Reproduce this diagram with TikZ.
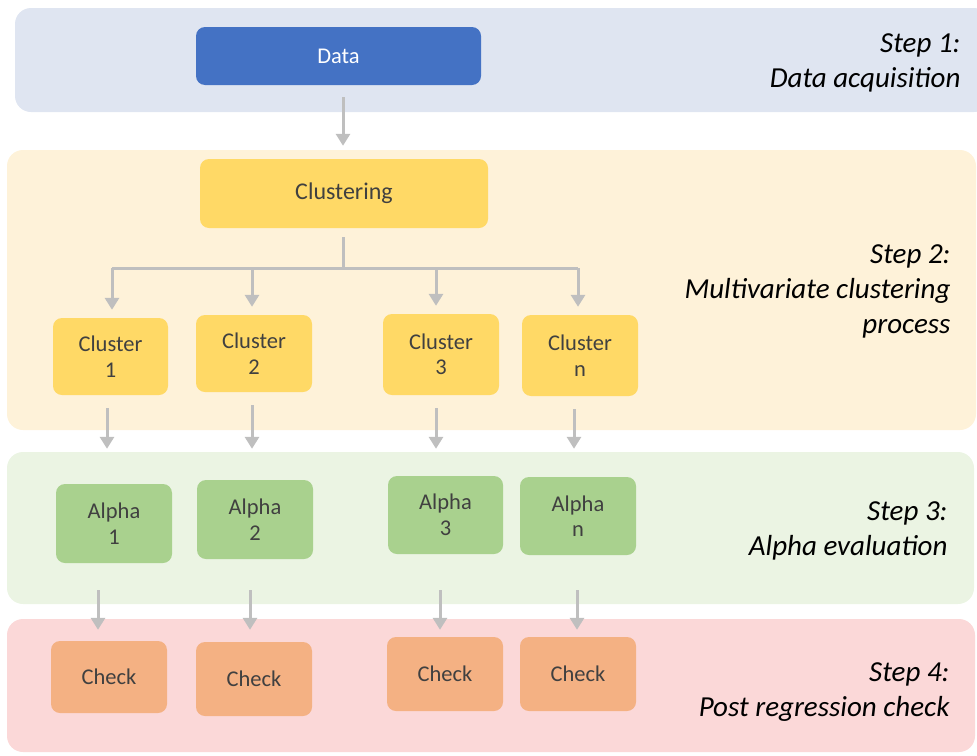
\documentclass[tikz,border=0pt]{standalone}
\usepackage{fontspec}
\setmainfont{Carlito}
\usetikzlibrary{arrows.meta}

\definecolor{bandblue}{HTML}{DFE5F1}
\definecolor{bandyellow}{HTML}{FEF2D9}
\definecolor{bandgreen}{HTML}{EBF4E3}
\definecolor{bandred}{HTML}{FBD8D8}
\definecolor{datablue}{HTML}{4472C4}
\definecolor{clustyellow}{HTML}{FFD966}
\definecolor{alphagreen}{HTML}{A9D18E}
\definecolor{checkorange}{HTML}{F4B183}
\definecolor{arrowgray}{HTML}{BFBFBF}
\definecolor{textgray}{HTML}{404040}

\tikzset{
  band/.style={rounded corners=16pt},
  box/.style={rounded corners=9pt, inner sep=0pt, align=center,
              text=textgray, font=\fontsize{22.5}{25.5}\selectfont},
  flow/.style={draw=arrowgray, line width=3pt,
               -{Triangle[width=14pt,length=12pt]}},
  trunk/.style={draw=arrowgray, line width=3pt},
  steplabel/.style={anchor=north east, align=right,
                    font=\fontsize{29}{35}\selectfont\itshape},
}

\begin{document}
\begin{tikzpicture}[x=1pt,y=-1pt]
\useasboundingbox (0,0) rectangle (977,755);

% step bands
\fill[bandblue,band]   (15,8)   rectangle (990,112);
\fill[bandyellow,band] (7,150)  rectangle (976,430);
\fill[bandgreen,band]  (7,452)  rectangle (974,604);
\fill[bandred,band]    (7,619)  rectangle (975,752);

% step 1
\node[box, fill=datablue, text=white, minimum width=285pt, minimum height=58pt]
  (data) at (338.5,56) {Data};

% step 2
\node[box, fill=clustyellow, minimum width=288pt, minimum height=69pt,
      font=\fontsize{24}{28}\selectfont] (clust) at (344,193.5) {Clustering};

\node[box, fill=clustyellow, minimum width=115pt, minimum height=77pt] (c1) at (110.5,356.5) {Cluster\\1};
\node[box, fill=clustyellow, minimum width=116pt, minimum height=77pt] (c2) at (254,353.5) {Cluster\\2};
\node[box, fill=clustyellow, minimum width=116pt, minimum height=81pt] (c3) at (441,354.5) {Cluster\\3};
\node[box, fill=clustyellow, minimum width=116pt, minimum height=81pt] (cn) at (580,355.5) {Cluster\\n};

% step 3
\node[box, fill=alphagreen, minimum width=116pt, minimum height=79pt] (a1) at (114,523.5) {Alpha\\1};
\node[box, fill=alphagreen, minimum width=116pt, minimum height=79pt] (a2) at (255,519.5) {Alpha\\2};
\node[box, fill=alphagreen, minimum width=115pt, minimum height=78pt] (a3) at (445.5,515) {Alpha\\3};
\node[box, fill=alphagreen, minimum width=116pt, minimum height=78pt] (an) at (578,516) {Alpha\\n};

% step 4
\node[box, fill=checkorange, minimum width=116pt, minimum height=72pt] (k1) at (109,677) {Check};
\node[box, fill=checkorange, minimum width=116pt, minimum height=74pt] (k2) at (254,679) {Check};
\node[box, fill=checkorange, minimum width=116pt, minimum height=74pt] (k3) at (445,674) {Check};
\node[box, fill=checkorange, minimum width=116pt, minimum height=74pt] (kn) at (578,674) {Check};

% branching points of the clustering tree
\coordinate (split) at (343,268);
\coordinate (bl) at (112,268);
\coordinate (br) at (578,268);

% connectors
\draw[flow] ([yshift=-12pt]data.south -| 343,0) -- ([yshift=13pt]clust.north -| 343,0);
\draw[trunk] ([yshift=-9pt]clust.south -| split) -- (split);
\draw[trunk] (bl) -- (br);
\draw[flow] (bl) -- ([yshift=8pt]c1.north -| bl);
\draw[flow] (split -| 252,0) -- ([yshift=8pt]c2.north -| 252,0);
\draw[flow] (split -| 436,0) -- ([yshift=8pt]c3.north -| 436,0);
\draw[flow] (br) -- ([yshift=8pt]cn.north -| br);

\draw[flow] ([yshift=-13pt]c1.south -| 107,0) -- ([yshift=35pt]a1.north -| 107,0);
\draw[flow] ([yshift=-13pt]c2.south -| 252,0) -- ([yshift=31pt]a2.north -| 252,0);
\draw[flow] ([yshift=-13pt]c3.south -| 436,0) -- ([yshift=27pt]a3.north -| 436,0);
\draw[flow] ([yshift=-13pt]cn.south -| 574,0) -- ([yshift=28pt]an.north -| 574,0);

\draw[flow] ([yshift=-27pt]a1.south -| 98,0)  -- ([yshift=11pt]k1.north -| 98,0);
\draw[flow] ([yshift=-31pt]a2.south -| 250,0) -- ([yshift=12pt]k2.north -| 250,0);
\draw[flow] ([yshift=-36pt]a3.south -| 440,0) -- ([yshift=7pt]k3.north -| 440,0);
\draw[flow] ([yshift=-35pt]an.south -| 577,0) -- ([yshift=7pt]kn.north -| 577,0);

% step captions
\node[steplabel] (s1) at (964,30)  {Step 1:\\Data acquisition};
\node[steplabel] (s2) at (954,241) {Step 2:\\Multivariate clustering\\process};
\node[steplabel] (s3) at (951,498) {Step 3:\\Alpha evaluation};
\node[steplabel] (s4) at (953,659) {Step 4:\\Post regression check};
\end{tikzpicture}
\end{document}
